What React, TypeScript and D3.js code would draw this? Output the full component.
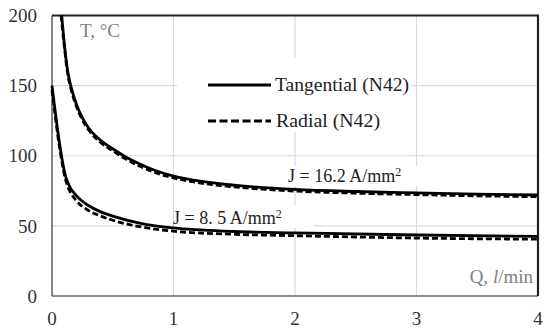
import React from "react";
import * as d3 from "d3";

const W = 550;
const H = 336;

const xTicks = [0, 1, 2, 3, 4];
const yTicks = [0, 50, 100, 150, 200];

// J = 16.2 A/mm2
const highTangential: [number, number][] = [
  [0.08, 200], [0.1, 181], [0.13, 160], [0.16, 148], [0.2, 137], [0.25, 127], [0.3, 120],
  [0.4, 111], [0.5, 105], [0.6, 99.5], [0.7, 95], [0.85, 89.5], [1, 85.5], [1.25, 81.5],
  [1.5, 79], [2, 76], [2.5, 74.5], [3, 73.5], [3.5, 72.6], [4, 72],
];
const highRadial: [number, number][] = [
  [0.075, 200], [0.1, 179], [0.13, 158], [0.16, 146.5], [0.2, 135.5], [0.25, 125.5], [0.3, 118.5],
  [0.4, 109.5], [0.5, 103.5], [0.6, 98], [0.7, 93.5], [0.85, 88], [1, 84.2], [1.25, 80.2],
  [1.5, 77.8], [2, 74.8], [2.5, 73.3], [3, 72.3], [3.5, 71.4], [4, 70.8],
];

// J = 8.5 A/mm2
const lowTangential: [number, number][] = [
  [0, 150], [0.02, 136], [0.05, 116], [0.08, 99], [0.11, 86], [0.14, 79], [0.2, 71.5],
  [0.3, 64.5], [0.4, 60], [0.5, 57], [0.75, 51.5], [1, 48.5], [1.5, 46], [2, 45],
  [3, 43.5], [4, 42.5],
];
const lowRadial: [number, number][] = [
  [0, 147], [0.02, 133], [0.05, 113], [0.08, 96.5], [0.11, 83.5], [0.14, 76], [0.2, 68],
  [0.3, 61], [0.4, 57], [0.5, 54], [0.75, 49], [1, 46.2], [1.5, 44], [2, 43],
  [3, 41.3], [4, 40.5],
];

const left = 52;
const right = 538;
const top = 15.5;
const bottom = 296;

const serif: React.CSSProperties = { fontFamily: "Liberation Serif, DejaVu Serif, serif" };

export default function App() {
  const x = d3.scaleLinear().domain([0, 4]).range([left, right]);
  const y = d3.scaleLinear().domain([0, 200]).range([bottom, top]);
  const line = d3
    .line<[number, number]>()
    .x((d) => x(d[0]))
    .y((d) => y(d[1]))
    .curve(d3.curveMonotoneX);

  return (
    <svg
      width={W}
      height={H}
      style={{ position: "absolute", left: 0, top: 0, background: "#fff", ...serif }}
    >
      <rect x={0} y={0} width={W} height={H} fill="#fff" />
      {/* grid */}
      {yTicks.filter((t) => t > 0 && t < 200).map((t) => (
        <line key={"gy" + t} x1={left} x2={right} y1={y(t)} y2={y(t)} stroke="#d9d9d9" strokeWidth={1.2} />
      ))}
      {xTicks.filter((t) => t > 0 && t < 4).map((t) => (
        <line key={"gx" + t} x1={x(t)} x2={x(t)} y1={top} y2={bottom} stroke="#d9d9d9" strokeWidth={1.2} />
      ))}
      {/* legend and label backgrounds */}
      <rect x={177} y={58} width={234} height={74} fill="#fff" />
      <rect x={174} y={205} width={139} height={23} fill="#fff" />
      <rect x={286} y={166} width={146} height={20} fill="#fff" />

      {/* frame */}
      <line x1={left} x2={left} y1={top} y2={bottom} stroke="#666" strokeWidth={1.6} />
      <line x1={left} x2={right} y1={bottom} y2={bottom} stroke="#666" strokeWidth={1.6} />
      <line x1={left} x2={right + 1} y1={top} y2={top} stroke="#222" strokeWidth={2} />
      <line x1={right} x2={right} y1={top} y2={bottom} stroke="#222" strokeWidth={2.2} />

      {/* tick labels */}
      {yTicks.map((t) => (
        <text key={"ty" + t} x={37} y={y(t)} dy="0.35em" textAnchor="end" fontSize={19} fill="#333" style={serif}>
          {t}
        </text>
      ))}
      {xTicks.map((t) => (
        <text key={"tx" + t} x={x(t)} y={318} dy="0.35em" textAnchor="middle" fontSize={19} fill="#333" style={serif}>
          {t}
        </text>
      ))}

      {/* curves */}
      <g fill="none" stroke="#000" strokeWidth={2.8}>
        <path d={line(highRadial) || ""} strokeDasharray="6 3" />
        <path d={line(highTangential) || ""} />
        <path d={line(lowRadial) || ""} strokeDasharray="6 3" />
        <path d={line(lowTangential) || ""} />
      </g>

      {/* axis titles */}
      <text x={80} y={37} fontSize={19} fill="#808080" style={serif}>T, °C</text>
      <text x={533} y={283} fontSize={19} fill="#808080" textAnchor="end" style={serif}>
        Q, <tspan fontStyle="italic">l</tspan>/min
      </text>

      {/* legend */}
      <line x1={208} x2={271} y1={85} y2={85} stroke="#000" strokeWidth={3} />
      <text x={275} y={91} fontSize={19} fill="#222" textLength={134} lengthAdjust="spacingAndGlyphs" style={serif}>
        Tangential (N42)
      </text>
      <line x1={208} x2={271} y1={121} y2={121} stroke="#000" strokeWidth={3} strokeDasharray="8 3.5" />
      <text x={276} y={127} fontSize={19} fill="#222" textLength={104} lengthAdjust="spacingAndGlyphs" style={serif}>
        Radial (N42)
      </text>

      {/* annotations */}
      <text x={288} y={182} fontSize={18} fill="#222" style={serif}>
        J = 16.2 A/mm<tspan fontSize={12} dy={-6}>2</tspan>
      </text>
      <text x={173} y={224} fontSize={18} fill="#222" style={serif}>
        J = 8. 5 A/mm<tspan fontSize={12} dy={-6}>2</tspan>
      </text>
    </svg>
  );
}
